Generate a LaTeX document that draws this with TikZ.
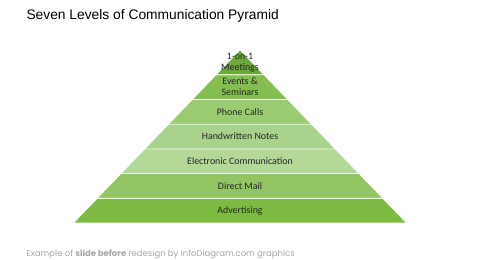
\documentclass[tikz,border=0pt]{standalone}
\usepackage{fontspec}
\setmainfont{Carlito}
\newfontfamily\titlefont{Liberation Sans}
\newfontfamily\notefont{Poppins}

\definecolor{lvlA}{HTML}{7CBA42}
\definecolor{lvlB}{HTML}{92C562}
\definecolor{lvlC}{HTML}{B3D898}
\definecolor{lvlD}{HTML}{A9D28C}
\definecolor{lvlE}{HTML}{9BCB70}
\definecolor{lvlF}{HTML}{84BE50}
\definecolor{lvlG}{HTML}{6CA83A}

\tikzset{
  band/.style={draw=white, line width=0.6pt, line join=round},
  lbl/.style={font=\fontsize{9.9}{11}\selectfont, text=black!85, align=center, inner sep=0pt}
}

\begin{document}
\begin{tikzpicture}[x=1pt,y=-1pt]
\useasboundingbox (0,0) rectangle (480,260);
\node[anchor=west, font=\titlefont\fontsize{13.8}{15}\selectfont] (title) at (23,16) {Seven Levels of Communication Pyramid};
% pyramid bands, bottom to top
\foreach \i/\col/\txt in {0/lvlA/Advertising, 1/lvlB/Direct Mail, 2/lvlC/Electronic Communication,
    3/lvlD/Handwritten Notes, 4/lvlE/Phone Calls, 5/lvlF/{Events \&\\Seminars}, 6/lvlG/{1-on-1\\Meetings}}{
  \pgfmathsetmacro\yb{223-24.714*\i}
  \pgfmathsetmacro\yt{\yb-24.714}
  \pgfmathsetmacro\wb{(\yb-50)*0.9624}
  \pgfmathsetmacro\wt{(\yt-50)*0.9624}
  \filldraw[band, fill=\col] (240-\wb,\yb) -- (240+\wb,\yb) -- (240+\wt,\yt) -- (240-\wt,\yt) -- cycle;
  \node[lbl] (lvl\i) at (240,\yb-12.4) {\txt};
}
\node[anchor=west, font=\notefont\fontsize{8.5}{10}\selectfont, text=black!35] (note) at (23,254) {Example of \textbf{slide before} redesign by InfoDiagram.com graphics};
\end{tikzpicture}
\end{document}
